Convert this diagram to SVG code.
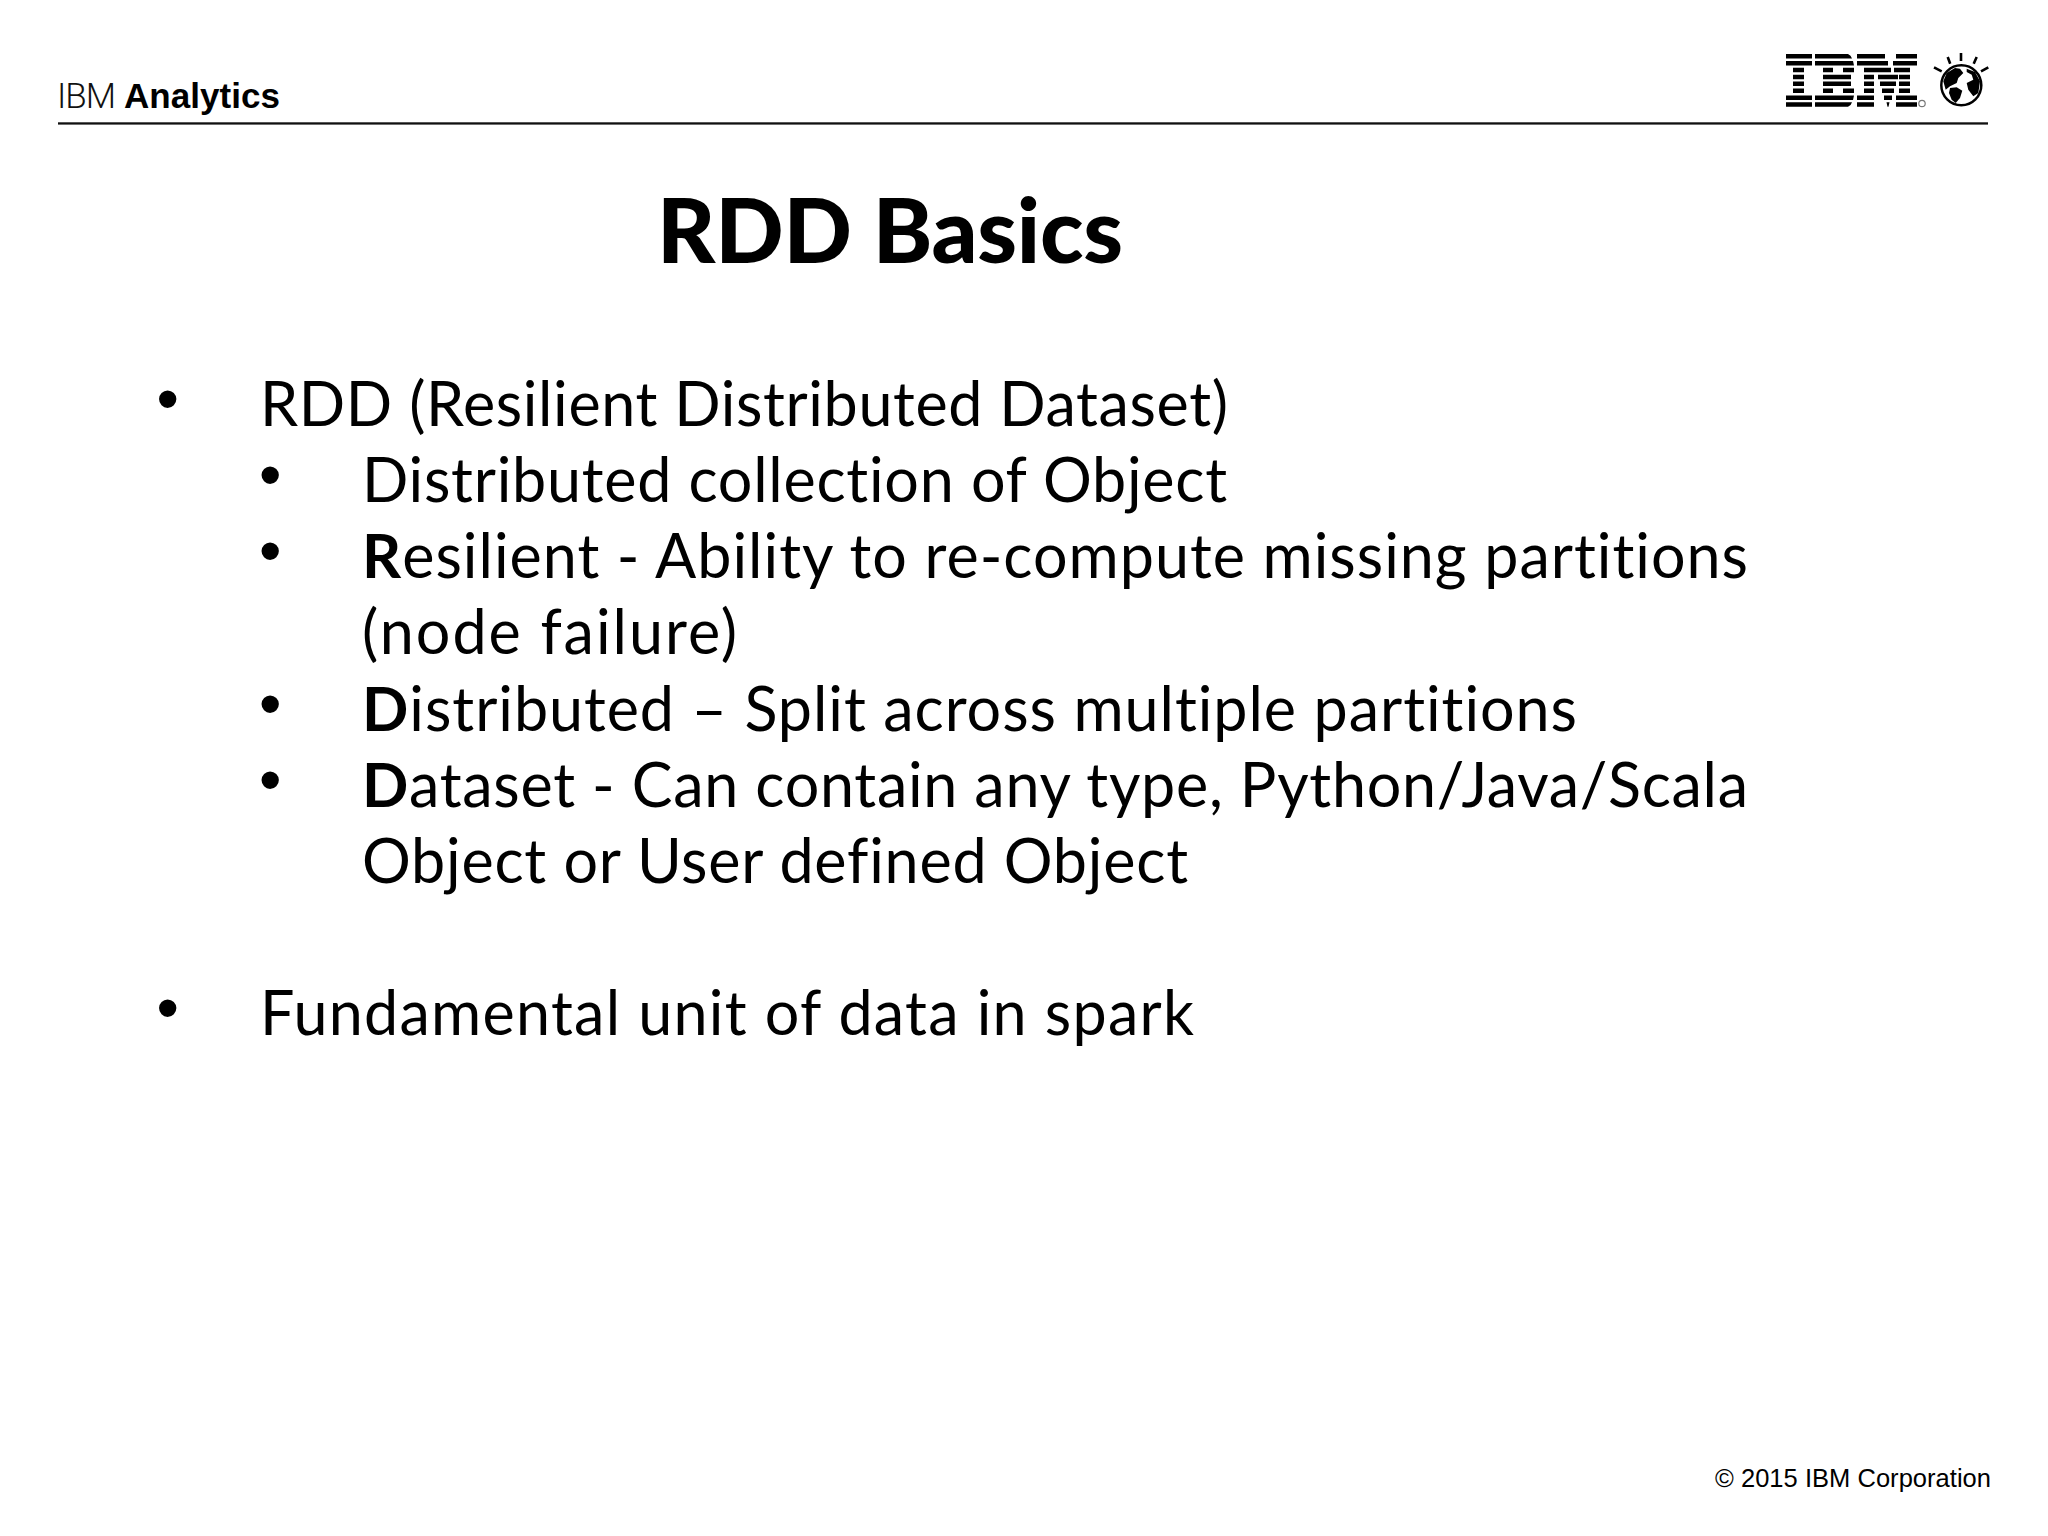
<svg xmlns="http://www.w3.org/2000/svg" width="2048" height="1536" viewBox="0 0 2048 1536">
<style>
.b{font-family:"Lato","Liberation Sans",sans-serif;font-size:61px;fill:#000;font-variant-ligatures:none}
.d{font-family:"Liberation Sans",sans-serif;font-size:64px;fill:#000}
.bd{font-weight:700}
.a{font-family:"Liberation Sans",sans-serif;fill:#000}
</style>
<rect width="2048" height="1536" fill="#fff"/>
<g id="header">
<text x="57" y="108" font-family="Roboto,'Liberation Sans',sans-serif" font-size="35" font-weight="300" fill="#111" textLength="59">IBM</text>
<text class="a" x="124" y="108" font-size="35" font-weight="700" textLength="156">Analytics</text>
<rect x="58" y="122.300" width="1930" height="2.300" fill="#111"/>
</g>
<g id="logo" fill="#000">
<path id="logo-i" d="M1786 54h26v4.500h-26zM1786 60.900h26v4.500h-26zM1793 67.800h11v4.500h-11zM1793 74.700h11v4.500h-11zM1793 81.600h11v4.500h-11zM1793 88.500h11v4.500h-11zM1786 95.400h26v4.500h-26zM1786 102.300h26v4.500h-26z"/>
<path id="logo-b" d="M1815 54h33q3 1 4 4.500h-37zM1815 60.900h38l1 4.500h-39zM1823 67.800h10v4.500h-10zM1843 67.800h11v4.500h-11zM1823 74.700h28v4.500h-28zM1823 81.600h28v4.500h-28zM1823 88.500h10v4.500h-10zM1843 88.500h11v4.500h-11zM1815 95.400h39l-1 4.500h-38zM1815 102.300h37q-1 3.500-4 4.500h-33z"/>
<path id="logo-m" d="M1857 54h28v4.500h-28zM1896 54h21v4.500h-21zM1857 60.900h31v4.500h-31zM1893 60.900h24v4.500h-24zM1864 67.800h27v4.500h-27zM1894 67.800h16v4.500h-16zM1864 74.700h10v4.500h-10zM1878 74.700h20v4.500h-20zM1899 74.700h11v4.500h-11zM1864 81.600h10v4.500h-10zM1880 81.600h16v4.500h-16zM1899 81.600h11v4.500h-11zM1864 88.500h10v4.500h-10zM1882 88.500h12v4.500h-12zM1899 88.500h11v4.500h-11zM1857 95.400h17v4.500h-17zM1884 95.400h8v4.500h-8zM1896 95.400h21v4.500h-21zM1857 102.300h17v4.500h-17zM1886.500 102.300h3l-1 4.500h-1zM1896 102.300h21v4.500h-21z"/>
<circle cx="1922" cy="103.500" r="3.200" fill="none" stroke="#777" stroke-width="1.200"/>
<circle cx="1961.300" cy="85.300" r="20" fill="#fff" stroke="#000" stroke-width="2.500"/>
<path d="M1943.300 81.300L1946.700 73L1955 68L1960 68.700L1963.300 73L1958.300 78L1956.700 83L1950 86.300L1945.700 89.700Z"/>
<path d="M1950 88L1956.700 87.300L1962.300 90.700L1960 98L1955.700 103L1951.700 99.700L1949 93Z"/>
<path d="M1966.700 68.700L1975 72L1980 81.300L1978.300 93L1973.300 96.300L1968.300 89.700L1966.700 83L1973.300 79.700L1971.700 74.700L1966.700 72Z"/>
<path d="M1961 53v8M1947.700 57l2.500 6.700M1976.700 57l-3 6.700M1934 67.300l7.700 4M1988.300 67.300l-7.300 4" stroke="#000" stroke-width="2.600" fill="none"/>
</g>
<g id="title">
<text x="657" y="263" font-family="Lato,'Liberation Sans',sans-serif" font-size="90" font-weight="900" textLength="466">RDD Basics</text>
</g>
<g id="bullets">
<text class="d" x="156.500" y="421">•</text>
<text class="b" x="260" y="426" textLength="968">RDD (Resilient Distributed Dataset)</text>
<text class="d" x="259" y="497">•</text>
<text class="b" x="362" y="502" textLength="865">Distributed collection of Object</text>
<text class="d" x="259" y="573">•</text>
<text class="b" x="362" y="578" textLength="1386"><tspan class="bd">R</tspan>esilient - Ability to re-compute missing partitions</text>
<text class="b" x="362" y="654" textLength="375">(node failure)</text>
<text class="d" x="259" y="726">•</text>
<text class="b" x="362" y="731" textLength="1215"><tspan class="bd">D</tspan>istributed – Split across multiple partitions</text>
<text class="d" x="259" y="802">•</text>
<text class="b" x="362" y="807" textLength="1386"><tspan class="bd">D</tspan>ataset - Can contain any type, Python/Java/Scala</text>
<text class="b" x="362" y="883" textLength="826">Object or User defined Object</text>
<text class="d" x="156.500" y="1030">•</text>
<text class="b" x="260" y="1035" textLength="934">Fundamental unit of data in spark</text>
</g>
<g id="footer">
<text class="a" x="1715" y="1487" font-size="25.500" textLength="276">© 2015 IBM Corporation</text>
</g>
</svg>
